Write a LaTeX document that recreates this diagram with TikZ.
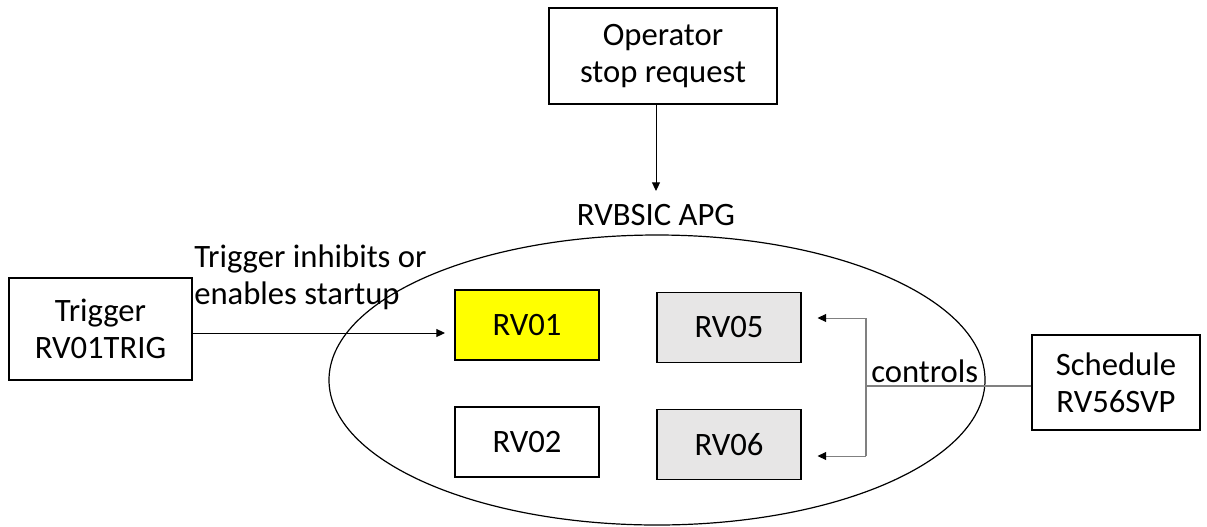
\documentclass[tikz,border=0pt]{standalone}
\usepackage{fontspec}
\setmainfont{Carlito}
\usetikzlibrary{arrows.meta,shapes.geometric}
\definecolor{boxgray}{RGB}{231,230,230}
\definecolor{rvyellow}{RGB}{255,255,0}
\definecolor{linegray}{RGB}{128,128,128}
\tikzset{
  lbl/.style={font=\fontsize{24.5}{27.5}\selectfont, inner sep=0pt},
  box/.style={draw=black, line width=0.8pt, lbl, align=center},
  rvbox/.style={box, minimum width=108pt, minimum height=52.5pt},
  arr/.style={line width=0.75pt, -{Triangle[length=6.5pt,width=6pt,color=black]}},
}
\begin{document}
\begin{tikzpicture}[x=0.75pt,y=-0.75pt]
\useasboundingbox (0,0) rectangle (1207,526);
% ellipse (APG)
\node[draw=black, line width=0.9pt, ellipse, inner sep=0pt, minimum width=492pt, minimum height=217.5pt] (apgell) at (657,380) {};
% boxes
\node[box, minimum width=171pt, minimum height=72pt] (op) at (663,56) {Operator\\stop request};
\node[box, minimum width=137.25pt, minimum height=76.5pt] (trig) at (100.5,329) {Trigger\\RV01TRIG};
\node[box, minimum width=126pt, minimum height=71.25pt] (sched) at (1116,382.5) {Schedule\\RV56SVP};
\node[rvbox, fill=rvyellow] (rv01) at (527,325) {RV01};
\node[rvbox, fill=boxgray] (rv05) at (729,327.5) {RV05};
\node[rvbox, fill=white] (rv02) at (527,442) {RV02};
\node[rvbox, fill=boxgray] (rv06) at (729,444.5) {RV06};
% labels
\node[lbl] (apg) at (656,215) {RVBSIC APG};
\node[lbl, align=left, anchor=west] (triglbl) at (194,277) {Trigger inhibits or\\enables startup};
\node[lbl, anchor=west] (ctrl) at (871,371) {controls};
% connectors
\coordinate (apgtop) at (656,191);
\draw[arr] (op.south -| apgtop) -- (apgtop);
\coordinate (tarr) at (445,333);
\draw[arr] (trig.east |- tarr) -- (tarr);
\coordinate (cj) at (866,386);
\coordinate (c5) at (866,318);
\coordinate (c6) at (866,456);
\draw[linegray, line width=0.8pt] (sched.west |- cj) -- (cj);
\draw[linegray, line width=0.8pt] (c5) -- (c6);
\draw[arr, linegray, shorten >=0pt] (c5) -- ([xshift=16pt*0.75]rv05.east |- c5);
\draw[arr, linegray] (c6) -- ([xshift=16pt*0.75]rv06.east |- c6);
\end{tikzpicture}
\end{document}
